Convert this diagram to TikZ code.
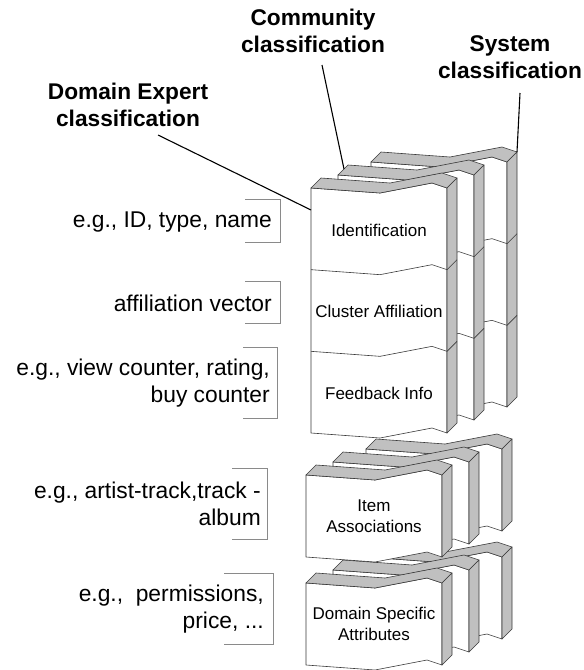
\documentclass[tikz,border=0pt]{standalone}
\usepackage{fontspec}
\setmainfont{Liberation Sans}
\definecolor{slabgrey}{HTML}{C0C0C0}
\definecolor{slabedge}{HTML}{3A3A3A}
\definecolor{brkgrey}{HTML}{8A8A8A}

% One sheet of a folded slab: front-left top corner (#1,#2), height #3,
% #4 sections, #5 prefix for the helper coordinates.
\newcommand\slabsheet[5]{%
  \begin{scope}[shift={(#1,#2)}]
    \filldraw[frontface] (0,0) -- (69,5) -- (121,-5) -- (136,0) -- (136,#3)
      -- (121,{#3-5}) -- (69,{#3+5}) -- (0,#3) -- cycle;
    \filldraw[greyface] (0,0) -- (69,5) -- (121,-5) -- (136,0) -- (146,-10)
      -- (131,-15) -- (79,-5) -- (10,-10) -- cycle;
    \filldraw[greyface] (136,0) -- (146,-10) -- (146,{#3-10}) -- (136,#3) -- cycle;
    \ifnum#4>1
      \pgfmathsetmacro\secH{#3/#4}
      \foreach \k in {2,...,#4}{
        \pgfmathsetmacro\yy{(\k-1)*\secH}
        \draw[slabline] (0,\yy) -- (69,{\yy+5}) -- (121,{\yy-5}) -- (136,\yy) -- (146,{\yy-10});
      }
    \fi
    \coordinate (#5-side) at (0,22);
    \coordinate (#5-lip) at (6,-6);
    \coordinate (#5-peak) at (146,-10);
  \end{scope}}

% Gray bracket closing a side note: x from #1 to #2, y from #3 to #4
\newcommand\notebracket[4]{\draw[brk] (#1,#3) -- (#2,#3) -- (#2,#4) -- (#1,#4);}

\begin{document}
\begin{tikzpicture}[x=1pt,y=-1pt,
  slabline/.style={draw=slabedge,line width=0.6pt,line join=round},
  frontface/.style={slabline,fill=white},
  greyface/.style={slabline,fill=slabgrey},
  brk/.style={draw=brkgrey,line width=0.8pt},
  title/.style={font=\fontsize{22.7}{26.5}\selectfont\bfseries,align=center,inner sep=0pt},
  note/.style={font=\fontsize{22.8}{27.5}\selectfont,align=right,anchor=east,inner sep=0pt},
  inlabel/.style={font=\fontsize{17}{21}\selectfont,align=center,inner sep=0pt},
  leader/.style={draw=black,line width=1.1pt}]

\useasboundingbox (0,0) rectangle (584,670);
\fill[white] (0,0) rectangle (584,670);

% back sheets (system classification)
\slabsheet{371}{162}{245}{3}{topB}
\slabsheet{366}{449}{82}{1}{itemB}
\slabsheet{366}{557}{82}{1}{domB}
% middle sheets (community classification)
\slabsheet{338}{175}{245}{3}{topM}
\slabsheet{333}{462}{82}{1}{itemM}
\slabsheet{333}{570}{82}{1}{domM}
% front sheets (domain expert classification)
\slabsheet{311}{188}{245}{3}{topF}
\slabsheet{306}{475}{82}{1}{itemF}
\slabsheet{306}{583}{82}{1}{domF}

% section labels
\node[inlabel] (ident) at (379,230) {Identification};
\node[inlabel] (clust) at (379,311) {Cluster Affiliation};
\node[inlabel] (feed) at (379,393) {Feedback Info};
\node[inlabel] (assoc) at (374,516) {Item\\Associations};
\node[inlabel] (attr) at (374,624) {Domain Specific\\Attributes};

% titles and leader lines
\node[title] (expert) at (128,105) {Domain Expert\\classification};
\node[title] (community) at (313,31) {Community\\classification};
\node[title] (system) at (510,57) {System\\classification};
\coordinate (expertfoot) at (158,135);
\coordinate (communityfoot) at (322,65);
\coordinate (systemfoot) at (520,93);
\draw[leader] (expertfoot) -- (topF-side);
\draw[leader] (communityfoot) -- (topM-lip);
\draw[leader] (systemfoot) -- (topB-peak);

% side notes
\node[note] (n1) at (272,222) {e.g., ID, type, name};
\notebracket{245}{280}{199}{242}
\node[note] (n2) at (272,303) {affiliation vector};
\notebracket{245}{280}{281}{323}
\node[note] (n3) at (270,383) {e.g., view counter, rating,\\buy counter};
\notebracket{243}{277}{347}{418}
\node[note] (n4) at (261,504) {e.g., artist-track,track -\\album};
\notebracket{232}{267}{468}{539}
\node[note] (n5) at (264,609) {e.g.,\ \ permissions,\\price, ...};
\notebracket{224}{273}{573}{644}
\end{tikzpicture}
\end{document}
